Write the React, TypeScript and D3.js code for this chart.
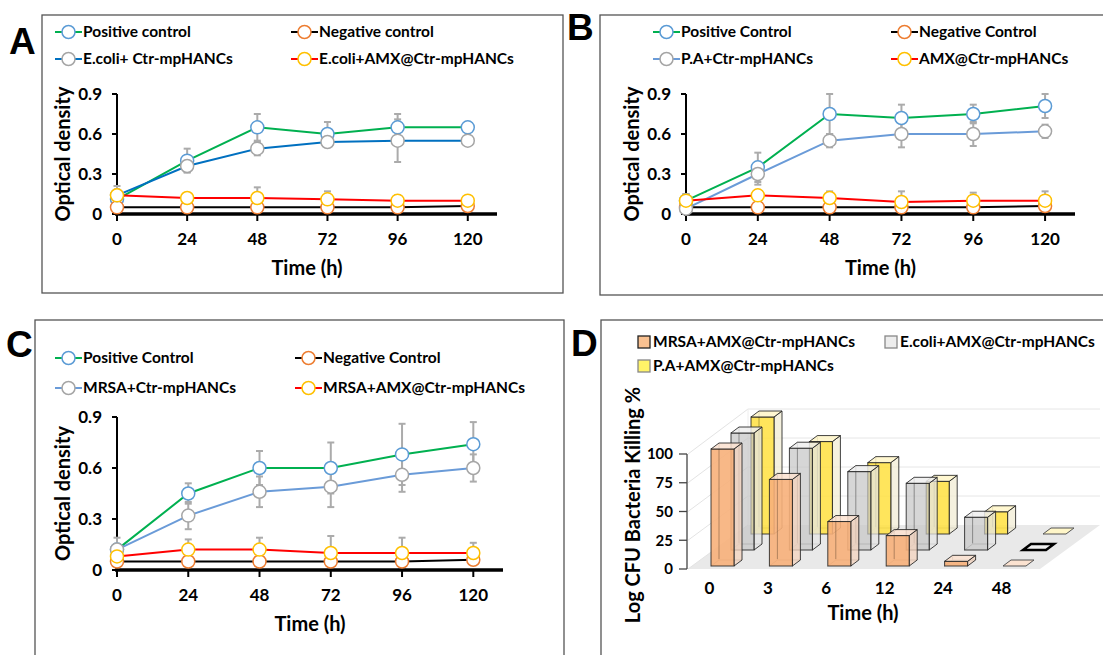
import React from 'react';
import * as d3 from 'd3';

const FONT = "Lato, 'Open Sans', sans-serif";

// ---------- shared ----------
const TIME = [0, 24, 48, 72, 96, 120];
const Y_TICKS = [0, 0.3, 0.6, 0.9];
const Y_TICK_LABELS = ['0', '0.3', '0.6', '0.9'];

// ---------- Panel A ----------
const A_NAMES = ['Positive control', 'Negative control', 'E.coli+ Ctr-mpHANCs', 'E.coli+AMX@Ctr-mpHANCs'];
const A_POSITIVE = [0.11, 0.40, 0.65, 0.60, 0.65, 0.65];
const A_POSITIVE_ERR = [0.03, 0.09, 0.10, 0.09, 0.10, 0.01];
const A_NEGATIVE = [0.05, 0.05, 0.05, 0.05, 0.05, 0.06];
const A_NEGATIVE_ERR = [0.01, 0.01, 0.01, 0.01, 0.01, 0.01];
const A_CTR = [0.14, 0.36, 0.49, 0.54, 0.55, 0.55];
const A_CTR_ERR = [0.03, 0.045, 0.05, 0.02, 0.16, 0.01];
const A_AMX = [0.14, 0.12, 0.12, 0.11, 0.10, 0.10];
const A_AMX_ERR = [0.07, 0.03, 0.08, 0.06, 0.04, 0.01];

// ---------- Panel B ----------
const B_NAMES = ['Positive Control', 'Negative Control', 'P.A+Ctr-mpHANCs', 'AMX@Ctr-mpHANCs'];
const B_POSITIVE = [0.10, 0.35, 0.75, 0.72, 0.75, 0.81];
const B_POSITIVE_ERR = [0.05, 0.11, 0.15, 0.10, 0.07, 0.09];
const B_NEGATIVE = [0.05, 0.05, 0.05, 0.05, 0.05, 0.06];
const B_NEGATIVE_ERR = [0.01, 0.01, 0.01, 0.01, 0.01, 0.01];
const B_CTR = [0.04, 0.30, 0.55, 0.60, 0.60, 0.62];
const B_CTR_ERR = [0.03, 0.08, 0.05, 0.10, 0.09, 0.05];
const B_AMX = [0.10, 0.14, 0.12, 0.09, 0.10, 0.10];
const B_AMX_ERR = [0.05, 0.02, 0.05, 0.08, 0.06, 0.07];

// ---------- Panel C ----------
const C_NAMES = ['Positive Control', 'Negative Control', 'MRSA+Ctr-mpHANCs', 'MRSA+AMX@Ctr-mpHANCs'];
const C_POSITIVE = [0.12, 0.45, 0.60, 0.60, 0.68, 0.74];
const C_POSITIVE_ERR = [0.07, 0.06, 0.10, 0.15, 0.18, 0.13];
const C_NEGATIVE = [0.05, 0.05, 0.05, 0.05, 0.05, 0.06];
const C_NEGATIVE_ERR = [0.02, 0.01, 0.01, 0.01, 0.01, 0.03];
const C_CTR = [0.12, 0.32, 0.46, 0.49, 0.56, 0.60];
const C_CTR_ERR = [0.03, 0.08, 0.09, 0.12, 0.10, 0.08];
const C_AMX = [0.08, 0.12, 0.12, 0.10, 0.10, 0.10];
const C_AMX_ERR = [0.03, 0.06, 0.07, 0.10, 0.09, 0.06];

// ---------- Panel D ----------
const D_TIMES = ['0', '3', '6', '12', '24', '48'];
const D_NAMES = ['MRSA+AMX@Ctr-mpHANCs', 'E.coli+AMX@Ctr-mpHANCs', 'P.A+AMX@Ctr-mpHANCs'];
const D_MRSA = [100, 74, 38, 26, 4, 0];
const D_ECOLI = [100, 87, 67, 57, 28, 0];
const D_PA = [100, 79, 61, 45, 19, 0];
const D_TICKS = [0, 25, 50, 75, 100];

// ---------- styles ----------
const GREEN = '#00B050';
const BLUE_A = '#0070C0';
const BLUE_L = '#6A9BD8';
const RED = '#FF0000';
const BLACK = '#000000';
const M_BLUE = '#5B9BD5';
const M_ORANGE = '#ED7D31';
const M_GREY = '#A5A5A5';
const M_YELLOW = '#FFC000';
const ERR = '#ABABAB';

type Series = { name: string; values: number[]; errs: number[]; line: string; marker: string };

type LineCfg = {
  box: [number, number, number, number];
  letter: { t: string; x: number; y: number };
  x0: number; x1: number; yTop: number; yBot: number;
  legRows: [number, number]; legCols: [number, number];
  series: Series[];
};

function LinePanel({ cfg }: { cfg: LineCfg }) {
  const x = d3.scaleLinear().domain([0, 130]).range([cfg.x0, cfg.x1]);
  const y = d3.scaleLinear().domain([0, 0.9]).range([cfg.yBot, cfg.yTop]);
  const line = d3.line<number>().x((_, i) => x(TIME[i])).y((d) => y(d));
  const [bx, by, bw, bh] = cfg.box;
  const legPos = [
    [cfg.legCols[0], cfg.legRows[0]],
    [cfg.legCols[1], cfg.legRows[0]],
    [cfg.legCols[0], cfg.legRows[1]],
    [cfg.legCols[1], cfg.legRows[1]],
  ];
  const drawOrder = [0, 1, 2, 3];
  return (
    <g>
      <rect x={bx} y={by} width={bw} height={bh} fill="#fff" stroke="#555" strokeWidth={1.3} />
      <text x={cfg.letter.x} y={cfg.letter.y} fontFamily="'Liberation Sans', Arial, sans-serif" fontWeight="bold" fontSize={37}>{cfg.letter.t}</text>
      {cfg.series.map((s, i) => {
        const [lx, ly] = legPos[i];
        return (
          <g key={'leg' + i}>
            <line x1={lx} x2={lx + 27} y1={ly} y2={ly} stroke={s.line} strokeWidth={2} />
            <circle cx={lx + 13.5} cy={ly} r={6.5} fill="#fff" stroke={s.marker} strokeWidth={1.5} />
            <text x={lx + 28} y={ly} dy="0.35em" fontFamily={FONT} fontWeight="bold" fontSize={15.5}>{s.name}</text>
          </g>
        );
      })}
      <line x1={cfg.x0} x2={cfg.x0} y1={cfg.yTop} y2={cfg.yBot} stroke="#000" strokeWidth={2} />
      {Y_TICKS.map((t, i) => (
        <g key={'yt' + i}>
          <line x1={cfg.x0 - 5} x2={cfg.x0} y1={y(t)} y2={y(t)} stroke="#000" strokeWidth={2} />
          <text x={cfg.x0 - 15} y={y(t)} dy="0.35em" textAnchor="end" fontFamily={FONT} fontWeight="bold" fontSize={17}>{Y_TICK_LABELS[i]}</text>
        </g>
      ))}
      {TIME.map((t, i) => (
        <g key={'xt' + i}>
          <line x1={x(t)} x2={x(t)} y1={cfg.yBot} y2={cfg.yBot + 7} stroke="#000" strokeWidth={2} />
          <text x={x(t)} y={cfg.yBot + 25} dy="0.35em" textAnchor="middle" fontFamily={FONT} fontWeight="bold" fontSize={17}>{String(t)}</text>
        </g>
      ))}
      <text x={(cfg.x0 + cfg.x1) / 2} y={cfg.yBot + 54} dy="0.35em" textAnchor="middle" fontFamily={FONT} fontWeight="bold" fontSize={20}>Time (h)</text>
      <text transform={`translate(${cfg.x0 - 54},${(cfg.yTop + cfg.yBot) / 2}) rotate(-90)`} dy="0.35em" textAnchor="middle" fontFamily={FONT} fontWeight="bold" fontSize={20}>Optical density</text>
      {cfg.series.map((s, si) => (
        <g key={'err' + si}>
          {s.values.map((v, i) => (
            <g key={i}>
              <line x1={x(TIME[i])} x2={x(TIME[i])} y1={y(v - s.errs[i])} y2={y(v + s.errs[i])} stroke={ERR} strokeWidth={2} />
              <line x1={x(TIME[i]) - 3.5} x2={x(TIME[i]) + 3.5} y1={y(v + s.errs[i])} y2={y(v + s.errs[i])} stroke={ERR} strokeWidth={2} />
              <line x1={x(TIME[i]) - 3.5} x2={x(TIME[i]) + 3.5} y1={y(v - s.errs[i])} y2={y(v - s.errs[i])} stroke={ERR} strokeWidth={2} />
            </g>
          ))}
        </g>
      ))}
      <line x1={cfg.x0 - 2} x2={cfg.x1} y1={cfg.yBot} y2={cfg.yBot} stroke="#000" strokeWidth={3.5} />
      {drawOrder.map((si) => {
        const s = cfg.series[si];
        return (
          <g key={'s' + si}>
            <path d={line(s.values) || ''} fill="none" stroke={s.line} strokeWidth={2} />
            {s.values.map((v, i) => (
              <circle key={i} cx={x(TIME[i])} cy={y(v)} r={6.5} fill="#fff" stroke={s.marker} strokeWidth={1.5} />
            ))}
          </g>
        );
      })}
    </g>
  );
}

function mk(names: string[], vals: number[][], errs: number[][], ctrLine: string): Series[] {
  const lines = [GREEN, BLACK, ctrLine, RED];
  const markers = [M_BLUE, M_ORANGE, M_GREY, M_YELLOW];
  return names.map((n, i) => ({ name: n, values: vals[i], errs: errs[i], line: lines[i], marker: markers[i] }));
}

const cfgA: LineCfg = {
  box: [42, 15, 521, 278],
  letter: { t: 'A', x: 9, y: 54 },
  x0: 117, x1: 497, yTop: 94, yBot: 214,
  legRows: [32, 59], legCols: [55, 291],
  series: mk(A_NAMES, [A_POSITIVE, A_NEGATIVE, A_CTR, A_AMX], [A_POSITIVE_ERR, A_NEGATIVE_ERR, A_CTR_ERR, A_AMX_ERR], BLUE_A),
};
const cfgB: LineCfg = {
  box: [600, 15, 520, 280],
  letter: { t: 'B', x: 567, y: 40 },
  x0: 686, x1: 1075, yTop: 94, yBot: 214,
  legRows: [32, 59], legCols: [653, 891],
  series: mk(B_NAMES, [B_POSITIVE, B_NEGATIVE, B_CTR, B_AMX], [B_POSITIVE_ERR, B_NEGATIVE_ERR, B_CTR_ERR, B_AMX_ERR], BLUE_L),
};
const cfgC: LineCfg = {
  box: [35, 320, 529, 360],
  letter: { t: 'C', x: 6, y: 357 },
  x0: 117, x1: 503, yTop: 417, yBot: 570,
  legRows: [358, 388], legCols: [55, 295],
  series: mk(C_NAMES, [C_POSITIVE, C_NEGATIVE, C_CTR, C_AMX], [C_POSITIVE_ERR, C_NEGATIVE_ERR, C_CTR_ERR, C_AMX_ERR], BLUE_L),
};

function BarPanel() {
  const band = d3.scaleBand<string>().domain(D_TIMES).range([699, 699 + 58.4 * 6]).padding(0);
  const yAxis = d3.scaleLinear().domain([0, 100]).range([569, 454]);
  const yBack = d3.scaleLinear().domain([0, 100]).range([525, 409]);
  const h = d3.scaleLinear().domain([0, 100]).range([0, 117]);
  const rows = [
    { vals: D_MRSA, front: '#F7B07A', side: '#F3D3BE', top: '#FBE2D0', k: 0, frontOp: 0.9, flatStroke: '#555', flatW: 1 },
    { vals: D_ECOLI, front: '#C4C4C4', side: '#E4E4E4', top: '#EFEFEF', k: 1, frontOp: 0.7, flatStroke: '#000', flatW: 2.5 },
    { vals: D_PA, front: '#FFE140', side: '#F1ECD4', top: '#FFF6C8', k: 2, frontOp: 0.85, flatStroke: '#555', flatW: 1 },
  ];
  const W = 23, DX = 8, DY = -6;
  const floorL = 688, floorR = 1040, fy = 569, bdx = 60, bdy = -44;
  const boxes: React.ReactElement[] = [];
  [2, 1, 0].forEach((ri) => {
    const r = rows[ri];
    r.vals.forEach((v, i) => {
      const x = (band(D_TIMES[i]) as number) + 12 + 20 * r.k;
      const base = 566 - 16 * r.k;
      const hh = h(v);
      const top = base - hh;
      const key = `b${ri}-${i}`;
      if (v <= 0) {
        boxes.push(
          <polygon key={key} points={`${x},${base} ${x + DX},${base + DY} ${x + W + DX},${base + DY} ${x + W},${base}`}
            fill={r.top} stroke={r.flatStroke} strokeWidth={r.flatW} />
        );
        return;
      }
      boxes.push(
        <g key={key}>
          <line x1={x + DX} y1={base + DY} x2={x + DX} y2={top + DY} stroke="#333" strokeOpacity={0.45} strokeWidth={1} />
          <line x1={x + DX} y1={base + DY} x2={x + W + DX} y2={base + DY} stroke="#333" strokeOpacity={0.45} strokeWidth={1} />
          <line x1={x} y1={base} x2={x + DX} y2={base + DY} stroke="#333" strokeOpacity={0.45} strokeWidth={1} />
          <polygon points={`${x + W},${base} ${x + W + DX},${base + DY} ${x + W + DX},${top + DY} ${x + W},${top}`}
            fill={r.side} fillOpacity={0.75} stroke="#222" strokeWidth={1} strokeOpacity={0.85} />
          <rect x={x} y={top} width={W} height={hh} fill={r.front} fillOpacity={r.frontOp} stroke="#222" strokeWidth={1} strokeOpacity={0.85} />
          <line x1={x + DX} y1={base + DY - 1} x2={x + DX} y2={top + DY} stroke="#000" strokeOpacity={0.25} strokeWidth={1} />
          <polygon points={`${x},${top} ${x + DX},${top + DY} ${x + W + DX},${top + DY} ${x + W},${top}`}
            fill={r.top} fillOpacity={0.85} stroke="#222" strokeWidth={1} strokeOpacity={0.85} />
        </g>
      );
    });
  });
  const legendSw = [
    { x: 638, y: 342, fill: '#F9C191', stroke: '#222' },
    { x: 885, y: 342, fill: '#EDEDED', stroke: '#888' },
    { x: 638, y: 366, fill: '#FFF468', stroke: '#888' },
  ];
  return (
    <g>
      <rect x={601} y={320} width={520} height={360} fill="#fff" stroke="#555" strokeWidth={1.3} />
      <text x={571} y={356} fontFamily="'Liberation Sans', Arial, sans-serif" fontWeight="bold" fontSize={37}>D</text>
      {D_NAMES.map((n, i) => (
        <g key={'dl' + i}>
          <rect x={legendSw[i].x} y={legendSw[i].y - 6} width={12} height={12} fill={legendSw[i].fill} stroke={legendSw[i].stroke} strokeWidth={1.3} />
          <text x={legendSw[i].x + 15} y={legendSw[i].y} dy="0.35em" fontFamily={FONT} fontWeight="bold" fontSize={15.5}>{n}</text>
        </g>
      ))}
      <polygon points={`${floorL},${fy} ${floorR},${fy} ${floorR + bdx},${fy + bdy} ${floorL + bdx},${fy + bdy}`} fill="#E9E9E9" />
      {D_TICKS.map((t) => (
        <g key={'g' + t}>
          <line x1={floorL} y1={yAxis(t)} x2={floorL + bdx} y2={yBack(t)} stroke="#E3E3E3" strokeWidth={1} />
          {t > 0 && <line x1={floorL + bdx} y1={yBack(t)} x2={1100} y2={yBack(t)} stroke="#E6E6E6" strokeWidth={1} />}
        </g>
      ))}
      <line x1={floorL + bdx} y1={yBack(0)} x2={floorL + bdx} y2={yBack(100)} stroke="#EEEEEE" strokeWidth={1} />
      <line x1={687} x2={687} y1={yAxis(0)} y2={yAxis(100)} stroke="#444" strokeWidth={1.3} />
      {D_TICKS.map((t) => (
        <g key={'yt' + t}>
          <line x1={679} x2={687} y1={yAxis(t)} y2={yAxis(t)} stroke="#444" strokeWidth={1.3} />
          <text x={673} y={yAxis(t)} dy="0.35em" textAnchor="end" fontFamily={FONT} fontWeight="bold" fontSize={15}>{String(t)}</text>
        </g>
      ))}
      {boxes}
      {D_TIMES.map((t) => (
        <text key={'xl' + t} x={(band(t) as number) + 10.5} y={588} dy="0.35em" textAnchor="middle" fontFamily={FONT} fontWeight="bold" fontSize={17}>{t}</text>
      ))}
      <text x={863} y={613} dy="0.35em" textAnchor="middle" fontFamily={FONT} fontWeight="bold" fontSize={20}>Time (h)</text>
      <text transform="translate(633,505) rotate(-90)" dy="0.35em" textAnchor="middle" fontFamily={FONT} fontWeight="bold" fontSize={20}>Log CFU Bacteria Killing %</text>
    </g>
  );
}

export default function App() {
  return (
    <svg width={1103} height={655} viewBox="0 0 1103 655" style={{ position: 'absolute', left: 0, top: 0, background: '#fff' }}>
      <rect width={1103} height={655} fill="#fff" />
      <LinePanel cfg={cfgA} />
      <LinePanel cfg={cfgB} />
      <LinePanel cfg={cfgC} />
      <BarPanel />
    </svg>
  );
}
